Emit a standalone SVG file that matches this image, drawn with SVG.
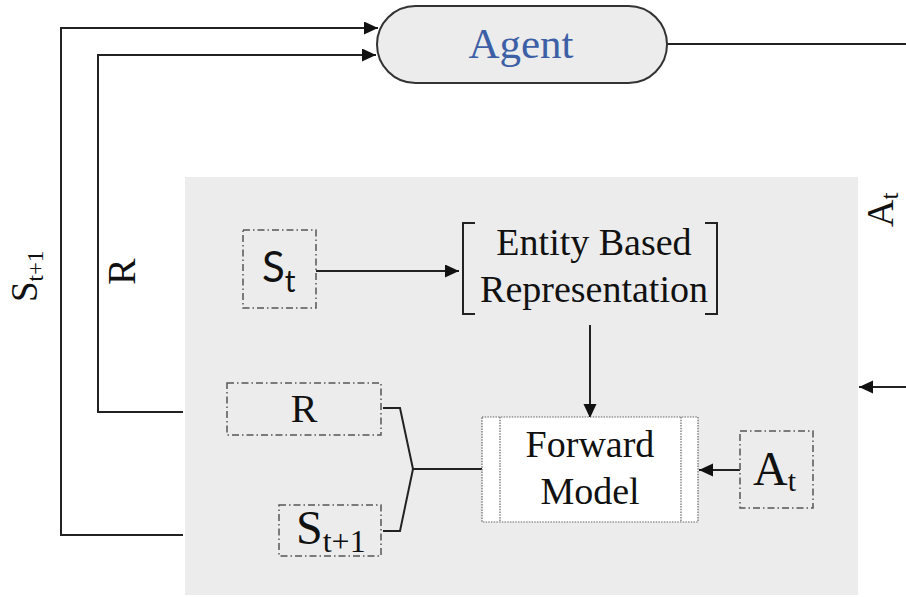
<svg xmlns="http://www.w3.org/2000/svg" width="906" height="597" viewBox="0 0 906 597">
<style>
.ln{fill:none;stroke:#222;stroke-width:2}
.dd{fill:none;stroke:#555;stroke-width:1.5;stroke-dasharray:7,3,1.5,3}
.dot{stroke:#666;stroke-width:1.2;stroke-dasharray:1.5,1.2}
.serif{font-family:"Liberation Serif","Times New Roman",serif;fill:#111}
.sans{font-family:Lato,"Open Sans",sans-serif;fill:#111}
</style>
<defs>
<marker id="ah" markerUnits="userSpaceOnUse" markerWidth="16" markerHeight="14" refX="14" refY="6.5" orient="auto">
<path d="M0,0 L14,6.5 L0,13 Z" fill="#111"/>
</marker>
</defs>
<rect x="0" y="0" width="906" height="597" fill="#fff"/>
<rect id="panel" x="185" y="177" width="673" height="418" fill="#ececec"/>

<g id="connectors">
<path class="ln" d="M667 44 H906"/>
<path class="ln" d="M183 535 H61 V28 H378" marker-end="url(#ah)"/>
<path class="ln" d="M183 412 H98 V55 H376" marker-end="url(#ah)"/>
<path class="ln" d="M316 271 H459" marker-end="url(#ah)"/>
<path class="ln" d="M590 325 V418" marker-end="url(#ah)"/>
<path class="ln" d="M740 470 H699" marker-end="url(#ah)"/>
<path class="ln" d="M906 387 H859" marker-end="url(#ah)"/>
<path class="ln" d="M383 408 H400 L413 469 L400 531 H383"/>
<path class="ln" d="M413 469 H482"/>
</g>

<g id="agent">
<rect x="377" y="6" width="290" height="77" rx="38.5" ry="38.5" fill="#ececec" stroke="#333" stroke-width="2"/>
<text x="521" y="58" text-anchor="middle" font-family="Liberation Serif, Times New Roman, serif" font-size="43" fill="#3d5fa6">Agent</text>
</g>

<g id="label-st1">
<text class="serif" transform="translate(37,302) rotate(-90)" font-size="37">S<tspan font-size="23" dy="6">t+1</tspan></text>
</g>
<g id="label-r">
<text class="serif" transform="translate(135,285) rotate(-90)" font-size="40">R</text>
</g>
<g id="label-at">
<text class="serif" transform="translate(893,227) rotate(-90)" font-size="38">A<tspan font-size="25" dy="5">t</tspan></text>
</g>

<g id="st">
<rect class="dd" x="243" y="230" width="73" height="78"/>
<text class="sans" x="262" y="282" font-size="42">S<tspan font-size="30" dy="10">t</tspan></text>
</g>

<g id="entity">
<path class="ln" d="M475 223 H463 V314 H475"/>
<path class="ln" d="M705 223 H717 V314 H705"/>
<text class="serif" x="594" y="255" text-anchor="middle" font-size="38">Entity Based</text>
<text class="serif" x="594" y="302" text-anchor="middle" font-size="38">Representation</text>
</g>

<g id="forward">
<rect x="482" y="417" width="216" height="105" fill="#fff" class="dot"/>
<line class="dot" x1="500" y1="417" x2="500" y2="522"/>
<line class="dot" x1="681" y1="417" x2="681" y2="522"/>
<text class="serif" x="590" y="457" text-anchor="middle" font-size="38">Forward</text>
<text class="serif" x="590" y="504" text-anchor="middle" font-size="38">Model</text>
</g>

<g id="r">
<rect class="dd" x="227" y="383" width="154" height="52"/>
<text class="serif" x="304" y="422" text-anchor="middle" font-size="40">R</text>
</g>

<g id="st1">
<rect class="dd" x="279" y="505" width="102" height="51"/>
<text class="serif" x="296" y="544" font-size="48">S<tspan font-size="32" dy="8">t+1</tspan></text>
</g>

<g id="at">
<rect class="dd" x="740" y="431" width="73" height="77"/>
<text class="serif" x="753" y="485" font-size="48">A<tspan font-size="30" dy="6">t</tspan></text>
</g>
</svg>
